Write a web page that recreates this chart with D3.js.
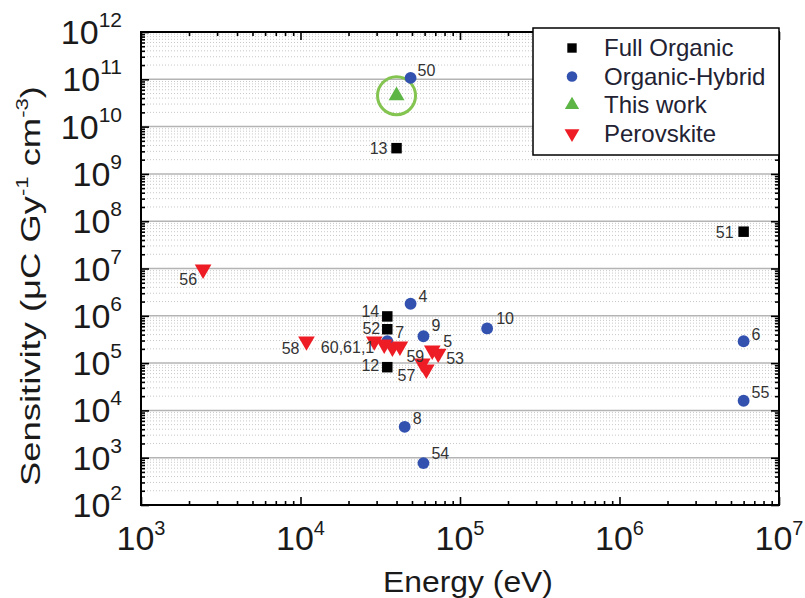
<!DOCTYPE html>
<html>
<head>
<meta charset="utf-8">
<script src="https://cdn.jsdelivr.net/npm/d3@7"></script>
<style>
    body { margin: 0; background: #fff; }
    text { font-family: "Liberation Sans", Arial, sans-serif; }
</style>
</head>
<body>
<svg id="chart" width="805" height="598"></svg>
<script>

var energyTicks = [1e3, 1e4, 1e5, 1e6, 1e7];
var sensTicks = [1e2, 1e3, 1e4, 1e5, 1e6, 1e7, 1e8, 1e9, 1e10, 1e11, 1e12];

// [energy eV, sensitivity uC/Gy/cm3, label]
var fullOrganic = [
    {e: 4.0e4, s: 3.5e9, label: '13'},
    {e: 6.0e6, s: 6.0e7, label: '51'},
    {e: 3.5e4, s: 9.7e5, label: '14'},
    {e: 3.5e4, s: 5.2e5, label: '52'},
    {e: 3.5e4, s: 8.2e4, label: '12'}
];

var organicHybrid = [
    {e: 4.9e4, s: 1.07e11, label: '50'},
    {e: 4.9e4, s: 1.8e6, label: '4'},
    {e: 5.9e4, s: 3.7e5, label: '9'},
    {e: 3.5e4, s: 2.9e5, label: '7'},
    {e: 1.48e5, s: 5.4e5, label: '10'},
    {e: 6.0e6, s: 2.9e5, label: '6'},
    {e: 6.0e6, s: 1.6e4, label: '55'},
    {e: 4.5e4, s: 4.5e3, label: '8'},
    {e: 5.9e4, s: 770, label: '54'}
];

var thisWork = [
    {e: 4.0e4, s: 4.5e10, label: ''}
];

var perovskite = [
    {e: 2.45e3, s: 9.6e6, label: '56'},
    {e: 1.09e4, s: 2.9e5, label: '58'},
    {e: 2.9e4, s: 2.9e5, label: '60,61,1'},
    {e: 3.35e4, s: 2.5e5, label: ''},
    {e: 3.77e4, s: 2.15e5, label: ''},
    {e: 4.2e4, s: 2.26e5, label: ''},
    {e: 6.7e4, s: 1.86e5, label: '5'},
    {e: 7.3e4, s: 1.6e5, label: '53'},
    {e: 5.8e4, s: 9.9e4, label: '59'},
    {e: 6.15e4, s: 7.4e4, label: '57'}
];

var legendNames = ['Full Organic', 'Organic-Hybrid', 'This work', 'Perovskite'];

// where each point label sits: dx, dy, anchor
var labelOffsets = {
    '13': [-9, 6, 'end'], '51': [-10, 6, 'end'], '14': [-8, 1, 'end'],
    '52': [-7, 5, 'end'], '12': [-8, 4, 'end'],
    '50': [7, -2, 'start'], '4': [8, -2, 'start'], '9': [8, -5, 'start'],
    '7': [8, -3, 'start'], '10': [9, -4, 'start'], '6': [8, -1, 'start'],
    '55': [8, -3, 'start'], '8': [8, -3, 'start'], '54': [8, -4, 'start'],
    '56': [-6, 16, 'end'], '58': [-7, 13, 'end'], '60,61,1': [0, 12, 'end'],
    '5': [11, -3, 'start'], '53': [8, 11, 'start'],
    '59': [2, -1, 'end'], '57': [-11, 12, 'end']
};

(function () {

    var left = 141, right = 779, top = 32, bottom = 505;

    var svg = d3.select('#chart');

    var x = d3.scaleLog().domain([1e3, 1e7]).range([left, right]);
    var y = d3.scaleLog().domain([1e2, 1e12]).range([bottom, top]);

    function minors(majors) {
        var out = [];
        for (var i = 0; i < majors.length - 1; i++) {
            for (var k = 2; k <= 9; k++) out.push(majors[i] * k);
        }
        return out;
    }
    var xMinor = minors(energyTicks);
    var yMinor = minors(sensTicks);

    // minor grid (dotted)
    svg.append('g').selectAll('line')
        .data(yMinor).enter()
        .append('line')
        .attr('x1', left).attr('x2', right)
        .attr('y1', function (d) { return y(d); })
        .attr('y2', function (d) { return y(d); })
        .attr('stroke', '#c8c8c8')
        .attr('stroke-width', 1)
        .attr('stroke-dasharray', '1,2');

    // major grid
    svg.append('g').selectAll('line')
        .data(sensTicks.slice(1, -1)).enter()
        .append('line')
        .attr('x1', left).attr('x2', right)
        .attr('y1', function (d) { return y(d); })
        .attr('y2', function (d) { return y(d); })
        .attr('stroke', '#b4b4b4')
        .attr('stroke-width', 1.5);

    // axes ticks, all pointing inwards
    function tickAxis(axisFn, scale, values, size, tx, ty) {
        var g = svg.append('g')
            .attr('transform', 'translate(' + tx + ',' + ty + ')')
            .call(axisFn(scale).tickValues(values).tickSizeInner(-size).tickSizeOuter(0).tickFormat(''));
        g.select('.domain').remove();
        g.selectAll('line').attr('stroke', '#000').attr('stroke-width', 1.6);
    }
    tickAxis(d3.axisBottom, x, energyTicks, 8, 0, bottom);
    tickAxis(d3.axisBottom, x, xMinor, 4, 0, bottom);
    tickAxis(d3.axisTop, x, energyTicks, 8, 0, top);
    tickAxis(d3.axisTop, x, xMinor, 4, 0, top);
    tickAxis(d3.axisLeft, y, sensTicks, 8, left, 0);
    tickAxis(d3.axisLeft, y, yMinor, 4, left, 0);
    tickAxis(d3.axisRight, y, sensTicks, 8, right, 0);
    tickAxis(d3.axisRight, y, yMinor, 4, right, 0);

    // frame
    svg.append('rect')
        .attr('x', left).attr('y', top)
        .attr('width', right - left).attr('height', bottom - top)
        .attr('fill', 'none')
        .attr('stroke', '#000')
        .attr('stroke-width', 2);

    // tick labels 10^n
    function powLabel(sel, v, big, small, raise) {
        var n = Math.round(Math.log10(v));
        sel.append('tspan').attr('font-size', big).text('10');
        sel.append('tspan').attr('font-size', small).attr('dy', -raise).text(n);
    }

    svg.append('g').selectAll('text')
        .data(sensTicks).enter()
        .append('text')
        .attr('x', 122)
        .attr('y', function (d) { return y(d) + 12; })
        .attr('text-anchor', 'end')
        .attr('fill', '#1a1a1a')
        .each(function (d) { powLabel(d3.select(this), d, 34, 21, 17); });

    svg.append('g').selectAll('text')
        .data(energyTicks).enter()
        .append('text')
        .attr('x', function (d) { return x(d); })
        .attr('y', bottom + 45)
        .attr('text-anchor', 'middle')
        .attr('fill', '#1a1a1a')
        .each(function (d) { powLabel(d3.select(this), d, 34, 20, 15); });

    // axis titles, stretched to the width they take in the figure
    function fitWidth(t, cx, cy, rot, target) {
        var w = t.node().getBBox().width;
        t.attr('transform', 'translate(' + cx + ',' + cy + ') rotate(' + rot + ') scale(' + (target / w) + ',1)');
    }

    var xt = svg.append('text')
        .attr('text-anchor', 'middle')
        .attr('font-size', 30)
        .attr('fill', '#1a1a1a')
        .text('Energy (eV)');
    fitWidth(xt, 468, 592, 0, 170);

    var yt = svg.append('text')
        .attr('text-anchor', 'middle')
        .attr('font-size', 28)
        .attr('fill', '#1a1a1a');
    yt.append('tspan').text('Sensitivity (\u03bcC Gy');
    yt.append('tspan').attr('font-size', 17).attr('dy', -12).text('-1');
    yt.append('tspan').attr('dy', 12).text(' cm');
    yt.append('tspan').attr('font-size', 17).attr('dy', -12).text('-3');
    yt.append('tspan').attr('dy', 12).text(')');
    fitWidth(yt, 40, 286, -90, 400);

    // series
    var series = [
        {name: legendNames[0], data: fullOrganic, color: '#000000', type: d3.symbolSquare, size: 110, rot: 0},
        {name: legendNames[1], data: organicHybrid, color: '#3352b0', type: d3.symbolCircle, size: 110, rot: 0},
        {name: legendNames[2], data: thisWork, color: '#5cb544', type: d3.symbolTriangle, size: 110, rot: 0},
        {name: legendNames[3], data: perovskite, color: '#ee1c24', type: d3.symbolTriangle, size: 120, rot: 180}
    ];

    // highlight ring round this work
    svg.append('circle')
        .attr('cx', x(thisWork[0].e))
        .attr('cy', y(thisWork[0].s))
        .attr('r', 19)
        .attr('fill', 'none')
        .attr('stroke', '#84c450')
        .attr('stroke-width', 3);

    series.forEach(function (sr) {
        svg.append('g').selectAll('path')
            .data(sr.data).enter()
            .append('path')
            .attr('d', d3.symbol().type(sr.type).size(sr.size))
            .attr('transform', function (d) {
                return 'translate(' + x(d.e) + ',' + y(d.s) + ') rotate(' + sr.rot + ')';
            })
            .attr('fill', sr.color);
    });

    // point labels
    var allPts = [].concat(fullOrganic, organicHybrid, thisWork, perovskite)
        .filter(function (d) { return d.label; });
    svg.append('g').selectAll('text')
        .data(allPts).enter()
        .append('text')
        .attr('x', function (d) { return x(d.e) + labelOffsets[d.label][0]; })
        .attr('y', function (d) { return y(d.s) + labelOffsets[d.label][1]; })
        .attr('text-anchor', function (d) { return labelOffsets[d.label][2]; })
        .attr('font-size', 16)
        .attr('fill', '#333')
        .text(function (d) { return d.label; });

    // legend
    var lg = svg.append('g');
    lg.append('rect')
        .attr('x', 533).attr('y', 28)
        .attr('width', 246).attr('height', 127)
        .attr('fill', '#fff')
        .attr('stroke', '#000')
        .attr('stroke-width', 1.5);
    series.forEach(function (sr, i) {
        var cy = 48 + i * 28.5;
        lg.append('path')
            .attr('d', d3.symbol().type(sr.type).size(sr.size * 0.8))
            .attr('transform', 'translate(572,' + cy + ') rotate(' + sr.rot + ')')
            .attr('fill', sr.color);
        lg.append('text')
            .attr('x', 604).attr('y', cy + 8)
            .attr('font-size', 24)
            .attr('fill', '#222233')
            .text(sr.name);
    });

})();
</script>
</body>
</html>
